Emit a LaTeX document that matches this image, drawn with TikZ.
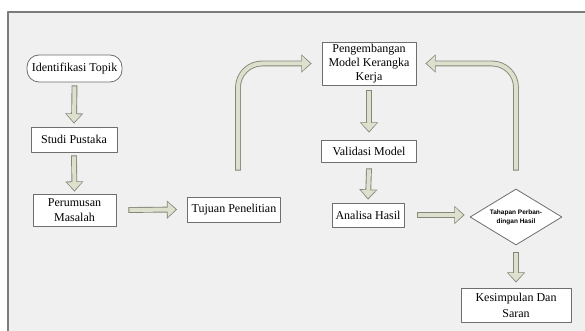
\documentclass[tikz,border=0pt]{standalone}
\usepackage{fontspec}
\setmainfont{Liberation Serif}
\newfontfamily\sansfont{Liberation Sans}
\usetikzlibrary{shapes.geometric,arrows.meta}
\definecolor{latar}{HTML}{F0F0F0}
\definecolor{bingkai}{HTML}{7C7C7C}
\definecolor{isipanah}{HTML}{DEE0CE}
\definecolor{garispanah}{HTML}{86867A}
\definecolor{garis}{HTML}{6E6E6E}
\begin{document}
\begin{tikzpicture}[x=1pt, y=-1pt, font=\fontsize{12}{15}\selectfont, line join=round]
	\tikzset{kotak/.style={draw=garis, fill=white, line width=0.8pt, align=center, inner sep=0pt},
		panah-blok/.style={draw=isipanah, line width=4pt, shorten <=0.9pt, shorten >=1.4pt,
			-{Triangle[width=14.5pt,length=8pt]},
			preaction={draw=garispanah, line width=5.8pt, shorten <=0pt, shorten >=0pt,
				-{Triangle[width=17.6pt,length=10.2pt]}}},
		panah-lengkung/.style={panah-blok, rounded corners=24pt}}
	\useasboundingbox (0,0) rectangle (585,331);
	\clip (0,0) rectangle (585,331);
	% latar dan bingkai
	\fill[white] (0,0) rectangle (585,331);
	\draw[bingkai, fill=latar, line width=1.2pt] (8,12) rectangle (600,345);
	% kotak-kotak
	\node[kotak, rounded corners=12pt, minimum width=95pt, minimum height=27pt] (identifikasi) at (74.5,68.5) {Identifikasi Topik};
	\node[kotak, minimum width=86pt, minimum height=25pt] (studi) at (74,139.5) {Studi Pustaka};
	\node[kotak, minimum width=83pt, minimum height=32pt] (rumusan) at (74.5,210) {Perumusan\\Masalah};
	\node[kotak, minimum width=93pt, minimum height=25pt] (tujuan) at (234,209.5) {Tujuan Penelitian};
	\node[kotak, minimum width=94pt, minimum height=43pt, font=\fontsize{12}{14}\selectfont] (model) at (369,63.5) {Pengembangan\\Model Kerangka\\Kerja};
	\node[kotak, minimum width=95pt, minimum height=22pt] (validasi) at (369,151) {Validasi Model};
	\node[kotak, minimum width=72pt, minimum height=24pt] (analisa) at (368,215) {Analisa Hasil};
	\node[kotak, diamond, aspect=1.64, minimum width=92pt, minimum height=56pt,
		font=\sansfont\bfseries\fontsize{6.5}{9}\selectfont] (banding) at (516,217) {Tahapan Perban-\\dingan Hasil};
	\node[kotak, minimum width=110pt, minimum height=34pt, font=\fontsize{12}{16}\selectfont] (simpulan) at (516,305) {Kesimpulan Dan\\Saran};
	% panah
	\draw[panah-blok] ([yshift=-3pt]identifikasi.south) -- ([yshift=3pt]studi.north);
	\draw[panah-blok] ([yshift=-3pt]studi.south) -- ([yshift=2pt]rumusan.north);
	\draw[panah-blok] ([xshift=12pt]rumusan.east) -- ([xshift=-10pt]tujuan.west);
	\draw[panah-lengkung] ([xshift=4pt,yshift=26pt]tujuan.north) |- ([xshift=-10pt]model.west);
	\draw[panah-blok] ([yshift=-5pt]model.south) -- ([yshift=7pt]validasi.north);
	\draw[panah-blok] ([yshift=-6pt]validasi.south) -- ([yshift=3pt]analisa.north);
	\draw[panah-blok] ([xshift=13pt]analisa.east) -- ([xshift=-5pt]analisa.east -| banding.west);
	\draw[panah-lengkung] ([yshift=18pt]banding.north) |- ([xshift=9pt]model.east);
	\draw[panah-blok] ([yshift=-7pt]banding.south) -- ([yshift=5pt]simpulan.north);
\end{tikzpicture}
\end{document}
